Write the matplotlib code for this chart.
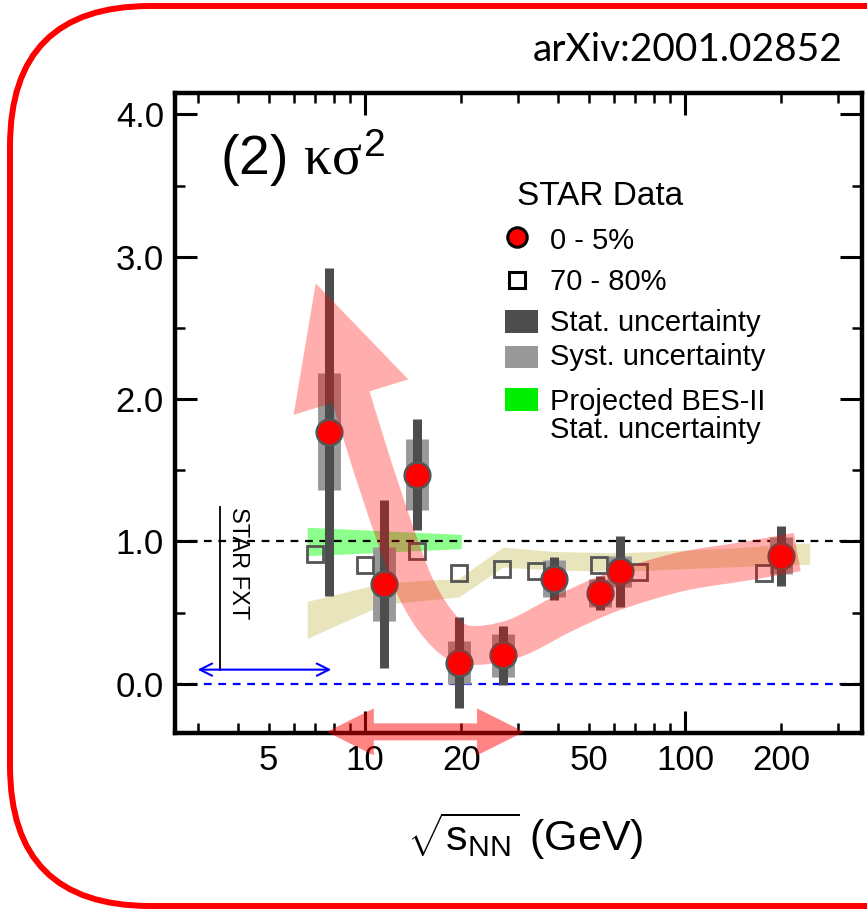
import numpy as np
import matplotlib
matplotlib.use('Agg')
import matplotlib.pyplot as plt
from matplotlib.patches import Rectangle, Polygon, PathPatch, FancyBboxPatch
from matplotlib.path import Path
from matplotlib.transforms import IdentityTransform
from matplotlib.ticker import FixedLocator, FuncFormatter

plt.rcParams['font.family'] = 'Liberation Sans'
plt.rcParams['mathtext.fontset'] = 'custom'
plt.rcParams['mathtext.rm'] = 'Liberation Sans'
plt.rcParams['mathtext.sf'] = 'Liberation Sans'
plt.rcParams['mathtext.it'] = 'Liberation Serif'

# STAR net-proton kappa*sigma^2, 0-5% central
energy = [7.7, 11.5, 14.5, 19.6, 27, 39, 54.4, 62.4, 200]
ks2_central = [1.77, 0.70, 1.47, 0.15, 0.20, 0.74, 0.64, 0.79, 0.90]
stat_err = [1.15, 0.59, 0.39, 0.32, 0.21, 0.15, 0.12, 0.25, 0.21]
syst_err = [0.41, 0.26, 0.25, 0.15, 0.15, 0.13, 0.10, 0.11, 0.13]

# 70-80% peripheral (drawn slightly shifted in energy)
energy_periph = [7.0, 10.0, 14.5, 19.7, 26.8, 34.2, 54.0, 71.8, 176]
ks2_periph = [0.91, 0.835, 0.93, 0.78, 0.81, 0.79, 0.835, 0.785, 0.78]

# projected BES-II stat. uncertainty
bes2_energy = [6.6, 20.0]
bes2_lo = [0.90, 0.95]
bes2_hi = [1.10, 1.05]

# model band
model_energy = [6.6, 11.5, 19.6, 27, 39, 62.4, 130, 245]
model_lo = [0.32, 0.56, 0.61, 0.82, 0.80, 0.79, 0.82, 0.84]
model_hi = [0.58, 0.71, 0.74, 0.96, 0.93, 0.92, 0.95, 0.99]

# guide arrow (trend), from high to low energy
trend_energy = [224, 156, 96.4, 59.6, 41.5, 29.0, 20.8, 17.3, 14.5, 12.6, 10.9, 10.4, 9.04]
trend_value = [0.926, 0.863, 0.786, 0.646, 0.491, 0.316, 0.274, 0.393, 0.660, 1.011, 1.432, 1.572, 2.014]

# energy ranges
bes_range = [7.6, 31.4]
fxt_range = [3.0, 7.85]

fig = plt.figure(figsize=(8.67, 9.11), dpi=100)
ax = fig.add_axes([175 / 867, (911 - 733) / 911, 687 / 867, 640 / 911])
ax.set_xscale('log')
ax.set_xlim(2.55, 357)
ax.set_ylim(-0.345, 4.15)

# bands
ax.fill_between(model_energy, model_lo, model_hi, color=(0.78, 0.75, 0.35), alpha=0.4, lw=0, zorder=1)
ax.fill_between(bes2_energy, bes2_lo, bes2_hi, color='#00ff00', alpha=0.45, lw=0, zorder=1.2)

ax.axhline(1.0, color='black', ls=(0, (3.5, 3)), lw=1.6, zorder=1.5)
ax.axhline(0.0, color='blue', ls=(0, (3.5, 3)), lw=1.6, zorder=1.5)

e = np.array(energy)
c = np.array(ks2_central)
ax.vlines(e, c - np.array(syst_err), c + np.array(syst_err), color='#999999', lw=16.5,
          capstyle='butt', zorder=2)
ax.vlines(e, c - np.array(stat_err), c + np.array(stat_err), color='#4d4d4d', lw=6.5,
          capstyle='butt', zorder=3)
ax.plot(energy_periph, ks2_periph, 's', ms=12, mfc='none', mec='#555555', mew=2, zorder=4)
ax.plot(energy, ks2_central, 'o', ms=18.5, mfc='#ff0000', mec='#555555', mew=1.8, zorder=5)

# curved guide arrow in display coordinates
pts = ax.transData.transform(np.column_stack([trend_energy, trend_value]))
ext = np.vstack([pts[0], pts, pts[-1]])
verts = [pts[0]]
codes = [Path.MOVETO]
for i in range(len(pts) - 1):
    p0, p1, p2, p3 = ext[i], ext[i + 1], ext[i + 2], ext[i + 3]
    verts += [p1 + (p2 - p0) / 6, p2 - (p3 - p1) / 6, p2]
    codes += [Path.CURVE4] * 3
ax.add_patch(PathPatch(Path(verts, codes), fill=False, ec=(1, 0, 0, 0.32), lw=28,
                       capstyle='butt', joinstyle='round', transform=IdentityTransform(), zorder=6))
d = pts[-1] - pts[-2]
d = d / np.hypot(*d)
nrm = np.array([-d[1], d[0]])
head = [pts[-1] + nrm * 60, pts[-1] + d * 119, pts[-1] - nrm * 60]
ax.add_patch(Polygon(head, closed=True, fc=(1, 0, 0, 0.32), ec='none',
                     transform=IdentityTransform(), zorder=6))

# double arrow at bottom
yb = -0.337
(xl, yc), (xr, _) = ax.transData.transform([(bes_range[0], yb), (bes_range[1], yb)])
hl, hw, sw = 47, 23.5, 8.5
arr = [(xl, yc), (xl + hl, yc + hw), (xl + hl, yc + sw), (xr - hl, yc + sw), (xr - hl, yc + hw),
       (xr, yc), (xr - hl, yc - hw), (xr - hl, yc - sw), (xl + hl, yc - sw), (xl + hl, yc - hw)]
ax.add_patch(Polygon(arr, closed=True, fc=(1, 0, 0, 0.48), ec='none',
                     transform=IdentityTransform(), zorder=10, clip_on=False))

# STAR FXT marker
ax.annotate('', xy=(fxt_range[0], 0.1), xytext=(fxt_range[1], 0.1),
            arrowprops=dict(arrowstyle='<->', color='blue', lw=1.5, mutation_scale=22,
                            shrinkA=0, shrinkB=0))
ax.plot([3.52, 3.52], [0.1, 1.24], color='black', lw=1.3)
ax.text(4.02, 1.245, 'STAR FXT', rotation=-90, ha='center', va='top', fontsize=17)

# axes styling
for s in ax.spines.values():
    s.set_linewidth(3.2)
ax.xaxis.set_major_locator(FixedLocator([10, 100]))
ax.xaxis.set_minor_locator(FixedLocator([3, 4, 5, 6, 7, 8, 9, 20, 30, 40, 50, 60, 70, 80, 90, 200, 300]))
ax.xaxis.set_major_formatter(FuncFormatter(lambda v, p: '%d' % v))
ax.xaxis.set_minor_formatter(FuncFormatter(lambda v, p: '%d' % v if v in (5, 20, 50, 200) else ''))
ax.set_yticks([0, 1, 2, 3, 4])
ax.set_yticks([0.5, 1.5, 2.5, 3.5], minor=True)
ax.set_yticklabels(['0.0', '1.0', '2.0', '3.0', '4.0'])
ax.tick_params(which='both', direction='in', top=True, right=True, labelsize=25)
ax.tick_params(which='major', length=16, width=2.2)
ax.tick_params(which='minor', length=7, width=1.8)
ax.tick_params(axis='x', which='both', pad=8)
ax.tick_params(axis='y', which='both', pad=8)

fig.text(525 / 867, (911 - 836) / 911, r'$\sqrt{\mathrm{s}_{\mathrm{NN}}}$ (GeV)', fontsize=31,
         ha='center', va='center')

ax.text(0.0655, 0.898, r'(2) $\kappa\sigma^{2}$', transform=ax.transAxes, fontsize=40,
        ha='left', va='center')

# legend drawn by hand
ax.text(0.498, 0.839, 'STAR Data', transform=ax.transAxes, fontsize=24, ha='left', va='center')
ax.plot([0.498], [0.775], 'o', ms=14, mfc='#ff0000', mec='black', mew=2.2,
        transform=ax.transAxes, clip_on=False, zorder=7)
ax.text(0.546, 0.769, '0 - 5%', transform=ax.transAxes, fontsize=21, va='center')
ax.plot([0.498], [0.708], 's', ms=11, mfc='white', mec='black', mew=2.2,
        transform=ax.transAxes, clip_on=False, zorder=7)
ax.text(0.546, 0.705, '70 - 80%', transform=ax.transAxes, fontsize=21, va='center')
ax.add_patch(Rectangle((0.480, 0.625), 0.048, 0.036, fc='#4d4d4d', ec='none', transform=ax.transAxes))
ax.text(0.546, 0.641, 'Stat. uncertainty', transform=ax.transAxes, fontsize=21, va='center')
ax.add_patch(Rectangle((0.480, 0.570), 0.048, 0.035, fc='#999999', ec='none', transform=ax.transAxes))
ax.text(0.546, 0.5875, 'Syst. uncertainty', transform=ax.transAxes, fontsize=21, va='center')
ax.add_patch(Rectangle((0.480, 0.503), 0.048, 0.036, fc='#00ee00', ec='none', transform=ax.transAxes))
ax.text(0.546, 0.517, 'Projected BES-II', transform=ax.transAxes, fontsize=21, va='center')
ax.text(0.546, 0.473, 'Stat. uncertainty', transform=ax.transAxes, fontsize=21, va='center')

# slide frame and reference
fig.text(843 / 867, (911 - 50) / 911, 'arXiv:2001.02852', fontsize=28, family='Lato',
         ha='right', va='center')
frame = FancyBboxPatch((10, 5), 1200, 900, boxstyle='round,pad=0,rounding_size=140',
                       fc='none', ec='red', lw=4.3, transform=IdentityTransform(), clip_on=False)
fig.patches.append(frame)

fig.savefig('out.png', dpi=100)
